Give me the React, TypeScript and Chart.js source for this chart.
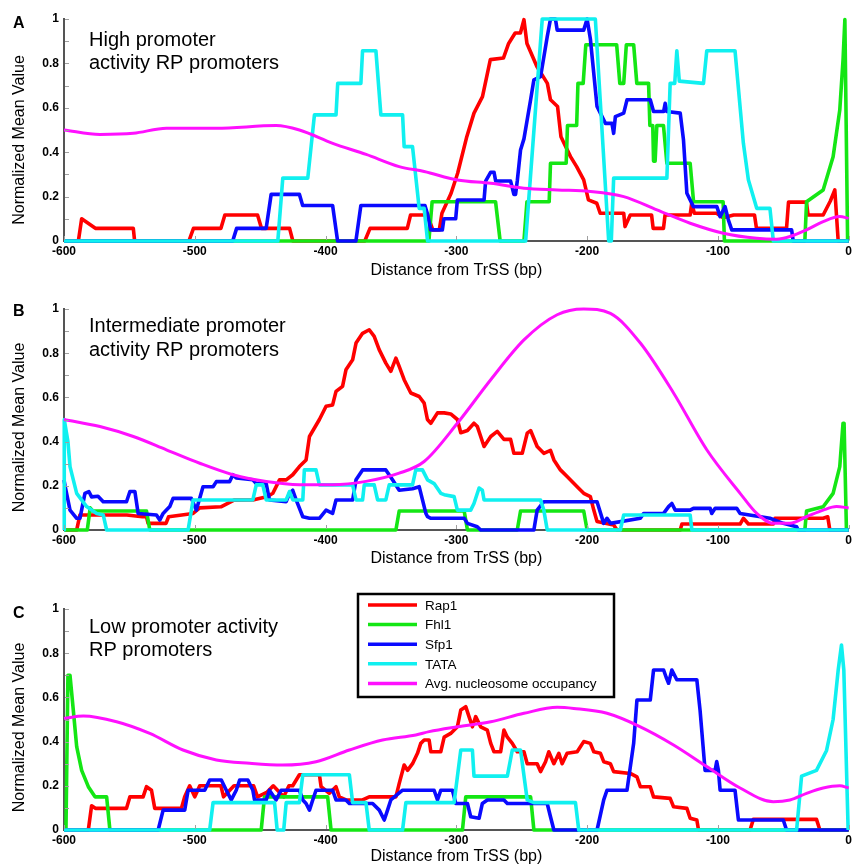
import React, { useEffect, useRef } from "react";
import { Chart, registerables } from "chart.js";
Chart.register(...registerables);

const FONT = '"Liberation Sans", Arial, sans-serif';
const AXIS = "#555555";
const MINOR = "#a0a0a0";
const COLORS = { rap1: "#ff0000", fhl1: "#14e614", sfp1: "#0a0aff", tata: "#10f0f0", nuc: "#ff10ff" };
const X_TICKS = [-600, -500, -400, -300, -200, -100, 0];
const Y_TICKS = [0, 0.2, 0.4, 0.6, 0.8, 1];
const LEGEND_LABELS = ["Rap1", "Fhl1", "Sfp1", "TATA", "Avg. nucleosome occupancy"];

// ---------- Panel A ----------
const A_RAP1 = [[-600,0],[-589,0],[-586.5,0.1],[-576,0.057],[-547,0.057],[-546,0],[-504.5,0],[-501,0.057],[-480,0.057],[-477,0.117],[-452,0.117],[-449,0.057],[-427.5,0.057],[-425,0],[-370,0],[-366,0.057],[-337.5,0.057],[-335,0.117],[-322,0.117],[-318,0.05],[-313,0.05],[-311,0.125],[-304,0.215],[-299,0.305],[-292,0.47],[-286.5,0.576],[-280,0.65],[-274,0.817],[-264,0.824],[-260,0.89],[-255,0.937],[-251,0.937],[-248.3,0.997],[-246,0.89],[-238.4,0.786],[-230.4,0.71],[-228,0.636],[-222.6,0.606],[-220,0.47],[-212.7,0.38],[-208,0.335],[-202.6,0.275],[-199,0.185],[-192.6,0.17],[-190,0.125],[-172,0.125],[-171,0.065],[-167,0.117],[-150.7,0.117],[-149.5,0.057],[-141.6,0.057],[-140.4,0.117],[-121.2,0.117],[-120,0.17],[-118,0.125],[-101,0.125],[-96,0.105],[-88,0.117],[-72,0.117],[-70.5,0.057],[-47.5,0.057],[-46,0.175],[-32.3,0.175],[-31,0.117],[-19.5,0.117],[-14,0.18],[-10.6,0.23],[-8,0],[0,0]];
const A_FHL1 = [[-600,0],[-321,0],[-318.5,0.177],[-270,0.177],[-266.5,0],[-248.3,0],[-246,0.177],[-229,0.177],[-228,0.35],[-216,0.35],[-215,0.52],[-208,0.52],[-207,0.71],[-203,0.71],[-201,0.884],[-177.4,0.884],[-175,0.71],[-172,0.71],[-170,0.884],[-164.4,0.884],[-162,0.71],[-153,0.71],[-152,0.52],[-149.8,0.52],[-149.2,0.36],[-148,0.36],[-146.7,0.52],[-141.6,0.52],[-139,0.35],[-121.2,0.35],[-118.6,0.177],[-96,0.177],[-95,0],[-33.5,0],[-32.2,0.177],[-19.5,0.23],[-11.9,0.38],[-6.8,0.59],[-4.3,0.816],[-2.9,0.997],[-0.8,0],[0,0]];
const A_SFP1 = [[-600,0],[-471,0],[-468,0.057],[-445.4,0.057],[-441.6,0.21],[-420,0.21],[-417.5,0.16],[-394.6,0.16],[-390.8,0],[-376.8,0],[-373,0.16],[-324,0.16],[-322,0.12],[-319.6,0.05],[-310.7,0.05],[-309.5,0.1],[-300.5,0.1],[-299.2,0.185],[-278.8,0.185],[-277.6,0.27],[-273.7,0.31],[-271.2,0.31],[-269.9,0.27],[-258.5,0.27],[-256,0.21],[-254.7,0.21],[-253.4,0.27],[-250.9,0.41],[-248.3,0.46],[-243.2,0.636],[-240.7,0.726],[-235.6,0.74],[-230.5,0.92],[-228,1],[-224.2,1],[-222.9,0.95],[-202.6,0.95],[-200,1],[-197.5,0.91],[-192.4,0.606],[-186,0.53],[-181,0.53],[-179.7,0.485],[-178.4,0.56],[-172,0.576],[-169.5,0.636],[-151.7,0.636],[-149.2,0.583],[-141.5,0.583],[-140.3,0.62],[-139,0.583],[-128.8,0.576],[-126.3,0.455],[-123.7,0.215],[-121.2,0.185],[-118.7,0.155],[-100.8,0.155],[-98.3,0.11],[-94.5,0.155],[-92,0.095],[-89.4,0.05],[-43.6,0.05],[-42.4,0],[0,0]];
const A_TATA = [[-600,0],[-436.5,0],[-432.7,0.283],[-413.6,0.283],[-408.5,0.568],[-392,0.568],[-390.7,0.71],[-373,0.71],[-371.7,0.857],[-361.5,0.857],[-357.7,0.568],[-341.1,0.568],[-339.9,0.425],[-333.5,0.425],[-328.4,0.147],[-324.6,0.147],[-322,0],[-247,0],[-234.3,1],[-193.7,1],[-183.5,0],[-181.5,0],[-179.7,0.283],[-139,0.283],[-136.5,0.71],[-133,0.71],[-131.4,0.857],[-129.5,0.72],[-111,0.71],[-108.5,0.857],[-86.9,0.857],[-80.5,0.44],[-76.7,0.276],[-70.3,0.147],[-60.2,0.147],[-57.6,0],[0,0]];
const A_NUC = [[-600,0.5],[-572.5,0.48],[-547,0.485],[-521.7,0.508],[-483.5,0.508],[-437.8,0.52],[-420,0.5],[-394.5,0.44],[-369,0.39],[-343.7,0.335],[-324.6,0.313],[-299.2,0.275],[-273.7,0.26],[-248.3,0.238],[-222.9,0.23],[-197.5,0.223],[-172,0.2],[-146.6,0.14],[-121.2,0.08],[-95.8,0.035],[-70.3,0.012],[-55.1,0.008],[-44.9,0.02],[-32.2,0.05],[-19.5,0.087],[-6.8,0.11],[0,0.102]];

// ---------- Panel B ----------
const B_RAP1 = [[-600,0],[-590.3,0],[-587.8,0.068],[-552,0.068],[-540,0.06],[-536.9,0.06],[-535.7,0.03],[-522,0.03],[-520,0.06],[-501.3,0.075],[-496.2,0.1],[-480,0.105],[-470,0.135],[-455.6,0.136],[-445,0.15],[-440.3,0.166],[-435.2,0.227],[-430.1,0.227],[-425.1,0.25],[-420,0.287],[-414.9,0.317],[-412.3,0.423],[-404.7,0.5],[-399.6,0.56],[-394.6,0.566],[-392,0.627],[-387,0.65],[-384.4,0.725],[-379.3,0.77],[-376.7,0.846],[-371.7,0.89],[-366.6,0.906],[-362.8,0.876],[-359,0.816],[-353.9,0.755],[-350.1,0.718],[-346.2,0.778],[-343.7,0.74],[-339.9,0.68],[-334.8,0.62],[-328.4,0.604],[-324.6,0.574],[-322.1,0.5],[-319.5,0.483],[-314.4,0.53],[-309.3,0.53],[-304.3,0.525],[-299.2,0.5],[-296.6,0.44],[-291.5,0.45],[-286.5,0.483],[-283.9,0.468],[-278.8,0.378],[-273.7,0.423],[-268.7,0.446],[-263.6,0.41],[-258.5,0.41],[-256,0.347],[-249.6,0.347],[-245.8,0.438],[-243.2,0.45],[-238.2,0.378],[-233.1,0.347],[-228,0.36],[-225.4,0.317],[-220.4,0.272],[-215.3,0.242],[-207.6,0.196],[-202.6,0.166],[-197.5,0.151],[-194.9,0.09],[-192.4,0.038],[-179.7,0.023],[-177.1,0],[-128.8,0],[-127.5,0.027],[-83,0.027],[-80.5,0.053],[-76.7,0.027],[-57.6,0.027],[-56.3,0.053],[-19.5,0.053],[-16,0.06],[-14.4,0],[0,0]];
const B_FHL1 = [[-600,0],[-582.2,0],[-580,0.1],[-578,0.086],[-536.9,0.086],[-534.4,0],[-346.2,0],[-343.7,0.086],[-294,0.086],[-291.5,0],[-253.4,0],[-250.9,0.086],[-202.6,0.086],[-200,0],[-33.5,0],[-32.2,0.086],[-19.5,0.105],[-11.9,0.166],[-6.8,0.287],[-4.3,0.483],[-3.5,0.483],[-1.7,0],[0,0]];
const B_SFP1 = [[-600,0.227],[-599.2,0.2],[-595.4,0.09],[-590.3,0.053],[-587.8,0.053],[-584,0.166],[-581,0.174],[-578.9,0.15],[-574,0.153],[-570,0.128],[-552.2,0.128],[-549.6,0.174],[-545.8,0.174],[-543.3,0.075],[-529.3,0.068],[-526.8,0.045],[-524.2,0.075],[-521.7,0.09],[-519.1,0.106],[-516.6,0.143],[-502.6,0.143],[-498.8,0.09],[-493.7,0.196],[-486,0.196],[-483.5,0.219],[-473.4,0.219],[-470.8,0.25],[-468.3,0.235],[-455.6,0.227],[-453,0.21],[-445.4,0.21],[-442.9,0.136],[-430.1,0.128],[-427.6,0.166],[-425.1,0.18],[-422.5,0.136],[-417.4,0.06],[-412.3,0.053],[-404.7,0.053],[-399.6,0.09],[-394.6,0.075],[-392,0.136],[-379.3,0.136],[-376.7,0.227],[-371.7,0.272],[-353.9,0.272],[-348.8,0.227],[-343.7,0.18],[-333.5,0.187],[-328.4,0.196],[-323.3,0.075],[-322,0.06],[-319.5,0.053],[-294,0.053],[-291.5,0.03],[-284,0.015],[-281.4,0],[-240.7,0],[-238.2,0.09],[-233.1,0.128],[-192.4,0.128],[-187.3,0.03],[-184.8,0.053],[-182.2,0.03],[-159.3,0.053],[-156.8,0.075],[-141.5,0.075],[-137.7,0.106],[-135.2,0.12],[-132.6,0.09],[-121.2,0.09],[-118.7,0.098],[-105.9,0.098],[-104.7,0.075],[-102.1,0.098],[-85.6,0.098],[-83,0.075],[-60.2,0.053],[-50,0.03],[-39.8,0.015],[-38.6,0],[0,0]];
const B_TATA = [[-600,0],[-599.8,0.5],[-597,0.4],[-595.4,0.287],[-590.3,0.166],[-582.7,0.106],[-575,0.075],[-570,0.068],[-567.4,0],[-505.1,0],[-501.3,0.136],[-455.6,0.136],[-453,0.204],[-448,0.204],[-445.4,0.136],[-430.1,0.136],[-427.6,0.174],[-425,0.136],[-417.4,0.136],[-416.2,0.272],[-407.3,0.272],[-404.7,0.204],[-379.3,0.204],[-376.7,0.136],[-371.7,0.136],[-370.4,0.204],[-362.8,0.204],[-360.2,0.136],[-353.9,0.136],[-351.3,0.204],[-333.5,0.204],[-331,0.272],[-325.9,0.272],[-322,0.227],[-317,0.21],[-311.9,0.166],[-309.3,0.16],[-301.7,0.151],[-299.2,0.09],[-289,0.09],[-286.5,0.12],[-282.6,0.19],[-280.1,0.18],[-278.8,0.136],[-235.6,0.136],[-233.1,0.09],[-230.5,0],[-174.6,0],[-172,0.068],[-121.2,0.068],[-119.9,0],[0,0]];
const B_NUC = [[-600,0.5],[-572.5,0.468],[-547,0.423],[-521.7,0.363],[-496.2,0.302],[-470.8,0.25],[-445.4,0.219],[-420,0.205],[-394.6,0.205],[-369.1,0.22],[-343.7,0.257],[-324.6,0.31],[-299.2,0.483],[-273.7,0.68],[-248.3,0.86],[-222.9,0.974],[-202.6,1],[-182.2,0.98],[-159.3,0.846],[-133.9,0.62],[-108.5,0.363],[-83,0.166],[-70.3,0.075],[-57.6,0.03],[-44.9,0.03],[-32.2,0.06],[-19.5,0.09],[-9.3,0.106],[0,0.1]];

// ---------- Panel C ----------
const C_RAP1 = [[-600,0],[-581.4,0],[-578.9,0.11],[-576,0.098],[-552.2,0.098],[-549.6,0.15],[-539.5,0.15],[-536.9,0.196],[-533.1,0.18],[-530.6,0.098],[-510.2,0.098],[-507.7,0.15],[-503.9,0.2],[-500,0.15],[-496.2,0.2],[-480,0.2],[-478,0.15],[-470,0.2],[-455,0.2],[-452,0.15],[-445,0.17],[-440,0.2],[-432,0.15],[-428,0.2],[-425.1,0.2],[-420,0.25],[-404.7,0.25],[-403.4,0.196],[-397.1,0.166],[-392,0.196],[-389.5,0.15],[-384.4,0.136],[-371.7,0.136],[-366.6,0.15],[-346.2,0.15],[-343.7,0.21],[-339.9,0.294],[-337.3,0.27],[-333.5,0.3],[-329.7,0.347],[-327.2,0.392],[-324.6,0.407],[-320.8,0.407],[-319.5,0.354],[-311.9,0.354],[-309.3,0.42],[-304.3,0.437],[-299.2,0.467],[-296.6,0.543],[-292.8,0.558],[-290.3,0.513],[-287.7,0.467],[-285.2,0.513],[-281.4,0.467],[-276.3,0.452],[-273.7,0.392],[-271.2,0.354],[-266.1,0.354],[-263.6,0.452],[-261,0.42],[-257.2,0.392],[-253.4,0.354],[-248.3,0.354],[-245.8,0.3],[-238.2,0.3],[-235.6,0.264],[-231.8,0.309],[-229.3,0.354],[-225.4,0.3],[-221.6,0.347],[-219.1,0.3],[-215.3,0.347],[-207.6,0.354],[-202.6,0.4],[-197.5,0.392],[-194.9,0.354],[-189.8,0.347],[-187.3,0.309],[-182.2,0.3],[-179.7,0.264],[-167,0.256],[-161.9,0.24],[-159.3,0.196],[-151.7,0.196],[-149.2,0.15],[-136.5,0.143],[-133.9,0.105],[-123.7,0.098],[-121.2,0.053],[-116.1,0.045],[-114.8,0],[-75.4,0],[-72.9,0.048],[-24.6,0.048],[-22,0],[0,0]];
const C_FHL1 = [[-600,0],[-598.5,0],[-597,0.7],[-595.4,0.7],[-592.9,0.543],[-590.3,0.377],[-586.5,0.27],[-581.4,0.196],[-576.3,0.15],[-567.4,0.15],[-564.9,0],[-449.2,0],[-446.7,0.15],[-398.4,0.15],[-395.8,0],[-295.3,0],[-292.8,0.15],[-243.2,0.15],[-240.7,0],[0,0]];
const C_SFP1 = [[-600,0],[-528,0],[-524.2,0.09],[-507.7,0.09],[-505.1,0.18],[-492.4,0.18],[-488.6,0.226],[-479.7,0.226],[-475.9,0.18],[-472.1,0.136],[-468.3,0.18],[-465.7,0.226],[-459.4,0.226],[-455.6,0.18],[-454.3,0.136],[-445.4,0.136],[-442.9,0.18],[-437.8,0.136],[-434,0.18],[-420,0.18],[-417.4,0.136],[-414.9,0.12],[-412.3,0.09],[-409.8,0.136],[-407.3,0.18],[-394.6,0.18],[-392,0.136],[-384.4,0.136],[-381.8,0.12],[-364,0.12],[-358.9,0.09],[-355.1,0.045],[-352.6,0.09],[-350.1,0.136],[-341.1,0.18],[-317,0.18],[-314.4,0.136],[-311.9,0.18],[-303,0.18],[-300.4,0.12],[-291.5,0.12],[-289,0.06],[-282.6,0.053],[-280.1,0.12],[-276.3,0.136],[-263.6,0.136],[-261,0.12],[-230.5,0.12],[-228,0.06],[-225.4,0],[-192.4,0],[-187.3,0.136],[-184.8,0.18],[-169.5,0.18],[-164.4,0.392],[-161.9,0.588],[-151.7,0.588],[-149.2,0.724],[-141.5,0.724],[-139.5,0.69],[-137.7,0.664],[-135.2,0.724],[-131.4,0.68],[-116.1,0.68],[-113.6,0.54],[-109.8,0.27],[-102.1,0.27],[-100.9,0.31],[-99.6,0.27],[-98.3,0.18],[-86.9,0.18],[-84.3,0.045],[-50,0.045],[-47.5,0],[0,0]];
const C_TATA = [[-600,0],[-488.6,0],[-486,0.124],[-439,0.124],[-437,0],[-432,0],[-430.1,0.124],[-420,0.124],[-417.4,0.25],[-381.8,0.25],[-379.3,0.124],[-369.1,0.124],[-366.6,0],[-341.1,0],[-338.6,0.124],[-301.7,0.124],[-296.6,0.362],[-287.7,0.362],[-286.5,0.244],[-261,0.244],[-257.2,0.362],[-250.9,0.362],[-245.8,0.136],[-240.7,0.124],[-208.9,0.124],[-206.4,0],[-39.8,0],[-36,0.244],[-24.6,0.27],[-16.9,0.36],[-11.9,0.5],[-8,0.724],[-5.5,0.837],[-3.7,0.724],[-0.4,0],[0,0]];
const C_NUC = [[-600,0.505],[-585.2,0.516],[-559.8,0.49],[-534.4,0.437],[-509,0.362],[-483.5,0.317],[-458.1,0.302],[-432.7,0.294],[-407.3,0.309],[-381.8,0.362],[-356.4,0.407],[-331,0.43],[-320.8,0.445],[-299.2,0.467],[-273.7,0.49],[-248.3,0.528],[-222.9,0.555],[-210.2,0.55],[-184.8,0.528],[-159.3,0.467],[-133.9,0.385],[-108.5,0.287],[-83,0.19],[-57.6,0.128],[-44.9,0.136],[-32.2,0.166],[-19.5,0.19],[-6.8,0.2],[0,0.19]];

type Panel = {
  letter: string; note: string[]; top: number; height: number;
  padTop: number; xH: number; xTitlePad: number;
  letterY: number; noteY: number; noteGap: number; yTitleShift: number;
  legend: boolean; series: number[][][];
};

const PANELS: Panel[] = [
  { letter: "A", note: ["High promoter", "activity RP promoters"], top: 0, height: 285, padTop: 19, xH: 44, xTitlePad: 5, letterY: 28, noteY: 46, noteGap: 23, yTitleShift: 10, legend: false, series: [A_RAP1, A_FHL1, A_SFP1, A_TATA, A_NUC] },
  { letter: "B", note: ["Intermediate promoter", "activity RP promoters"], top: 285, height: 285, padTop: 24, xH: 40, xTitlePad: 2, letterY: 31, noteY: 47, noteGap: 24, yTitleShift: 8, legend: false, series: [B_RAP1, B_FHL1, B_SFP1, B_TATA, B_NUC] },
  { letter: "C", note: ["Low promoter activity", "RP promoters"], top: 570, height: 296, padTop: 39, xH: 36, xTitlePad: 0, letterY: 48, noteY: 63, noteGap: 23, yTitleShift: 8, legend: true, series: [C_RAP1, C_FHL1, C_SFP1, C_TATA, C_NUC] },
];

const SERIES_COLORS = [COLORS.rap1, COLORS.fhl1, COLORS.sfp1, COLORS.tata, COLORS.nuc];
const SERIES_ORDER = [4, 3, 2, 1, 0];

function overlay(p: Panel) {
  return {
    id: "overlay" + p.letter,
    afterDraw(chart: any) {
      const ctx = chart.ctx;
      const { left, top, bottom } = chart.chartArea;
      const xs = chart.scales.x;
      const ys = chart.scales.y;
      ctx.save();
      // inward minor ticks
      ctx.strokeStyle = MINOR;
      ctx.lineWidth = 1;
      for (let k = 1; k <= 10; k++) {
        const y = Math.round(ys.getPixelForValue(k / 10)) + 0.5;
        ctx.beginPath(); ctx.moveTo(left + 1, y); ctx.lineTo(left + 5, y); ctx.stroke();
      }
      for (const v of X_TICKS) {
        const x = Math.round(xs.getPixelForValue(v)) + 0.5;
        ctx.beginPath(); ctx.moveTo(x, bottom - 1); ctx.lineTo(x, bottom - 5); ctx.stroke();
      }
      // y title
      ctx.fillStyle = "#000";
      ctx.font = `16px ${FONT}`;
      ctx.textAlign = "center";
      ctx.textBaseline = "middle";
      ctx.translate(20, (top + bottom) / 2 + p.yTitleShift);
      ctx.rotate(-Math.PI / 2);
      ctx.fillText("Normalized Mean Value", 0, 0);
      ctx.setTransform(1, 0, 0, 1, 0, 0);
      // panel letter
      ctx.textAlign = "left";
      ctx.textBaseline = "alphabetic";
      ctx.font = `bold 16px ${FONT}`;
      ctx.fillText(p.letter, 13, p.letterY);
      // annotation
      ctx.font = `20px ${FONT}`;
      p.note.forEach((line, i) => ctx.fillText(line, 89, p.noteY + i * p.noteGap));
      // legend
      if (p.legend) {
        const bx = 358, by = 24, bw = 256, bh = 103;
        ctx.fillStyle = "#fff";
        ctx.fillRect(bx, by, bw, bh);
        ctx.strokeStyle = "#000";
        ctx.lineWidth = 2.5;
        ctx.strokeRect(bx, by, bw, bh);
        ctx.font = `13.5px ${FONT}`;
        ctx.textBaseline = "middle";
        LEGEND_LABELS.forEach((lab, i) => {
          const cy = 35 + i * 19.6;
          ctx.strokeStyle = SERIES_COLORS[i];
          ctx.lineWidth = 3.5;
          ctx.beginPath(); ctx.moveTo(368, cy); ctx.lineTo(417, cy); ctx.stroke();
          ctx.fillStyle = "#000";
          ctx.fillText(lab, 425, cy + 1);
        });
      }
      ctx.restore();
    },
  };
}

function PanelChart({ p }: { p: Panel }) {
  const ref = useRef<HTMLCanvasElement | null>(null);
  useEffect(() => {
    if (!ref.current) return;
    const datasets = p.series.map((pts, i) => ({
      label: LEGEND_LABELS[i],
      data: pts.map(([x, y]) => ({ x, y })),
      borderColor: SERIES_COLORS[i],
      backgroundColor: SERIES_COLORS[i],
      borderWidth: i === 4 ? 3 : 3.6,
      pointRadius: 0,
      tension: i === 4 ? 0.4 : 0,
      cubicInterpolationMode: i === 4 ? "monotone" : "default",
      borderJoinStyle: "round",
      fill: false,
      clip: 8,
      order: SERIES_ORDER[i],
    }));
    const chart = new Chart(ref.current, {
      type: "line",
      data: { datasets } as any,
      options: {
        animation: false,
        responsive: false,
        events: [],
        layout: { padding: { top: p.padTop, right: 5, left: 0, bottom: 0 } },
        plugins: { legend: { display: false }, tooltip: { enabled: false } },
        scales: {
          x: {
            type: "linear", min: -600, max: 0,
            grid: { display: false, drawTicks: false },
            border: { display: true, color: AXIS, width: 2 },
            afterBuildTicks: (s: any) => { s.ticks = X_TICKS.map((v) => ({ value: v })); },
            ticks: { padding: 3, color: "#000", font: { family: FONT, size: 12, weight: "bold" }, maxRotation: 0, autoSkip: false },
            title: { display: true, text: "Distance from TrSS (bp)", color: "#000", font: { family: FONT, size: 16 }, padding: { top: 0, bottom: p.xTitlePad } },
            afterFit: (s: any) => { s.height = p.xH; },
          },
          y: {
            type: "linear", min: 0, max: 1,
            grid: { display: false, drawTicks: false },
            border: { display: true, color: AXIS, width: 2 },
            afterBuildTicks: (s: any) => { s.ticks = Y_TICKS.map((v) => ({ value: v })); },
            ticks: { padding: 5, color: "#000", font: { family: FONT, size: 12, weight: "bold" }, autoSkip: false, callback: (v: any) => String(Math.round(Number(v) * 10) / 10) },
            afterFit: (s: any) => { s.width = 64; },
          },
        },
      } as any,
      plugins: [overlay(p)],
    });
    return () => chart.destroy();
  }, [p]);
  return (
    <canvas ref={ref} width={855} height={p.height}
      style={{ position: "absolute", left: 0, top: p.top, width: 855, height: p.height, display: "block" }} />
  );
}

export default function App() {
  return (
    <div style={{ position: "absolute", left: 0, top: 0, width: 855, height: 866, background: "#fff", overflow: "hidden" }}>
      {PANELS.map((p) => <PanelChart key={p.letter} p={p} />)}
    </div>
  );
}
